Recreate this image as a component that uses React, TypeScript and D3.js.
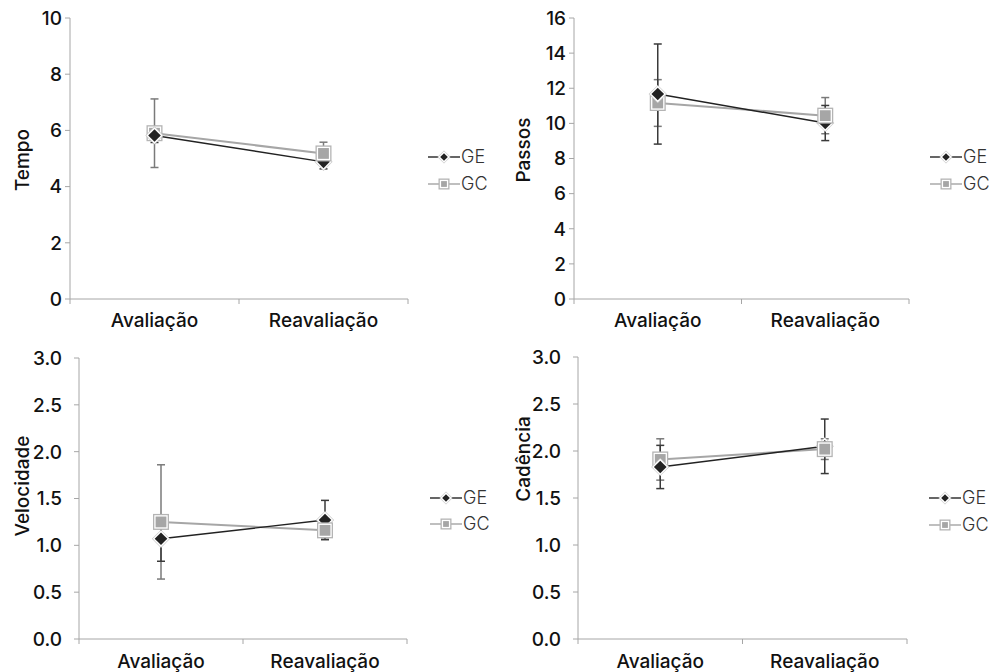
import React from "react";
import * as d3 from "d3";

const categories = ["Avaliação", "Reavaliação"];
const seriesNames = ["GE", "GC"];

const panelTitles = ["Tempo", "Passos", "Velocidade", "Cadência"];
const panelMax = [10, 16, 3, 3];
const panelStep = [2, 2, 0.5, 0.5];

// means per category
const tempoGE = [5.82, 4.88];
const tempoGC = [5.9, 5.18];
const tempoGEerr = [0.25, 0.25];
const tempoGCerr = [1.22, 0.4];

const passosGE = [11.67, 10.02];
const passosGC = [11.16, 10.44];
const passosGEerr = [2.85, 1.0];
const passosGCerr = [1.33, 1.03];

const velGE = [1.07, 1.27];
const velGC = [1.25, 1.16];
const velGEerr = [0.24, 0.21];
const velGCerr = [0.61, 0.08];

const cadGE = [1.83, 2.05];
const cadGC = [1.91, 2.02];
const cadGEerr = [0.23, 0.29];
const cadGCerr = [0.22, 0.11];

const panelData = [
  { ge: tempoGE, gc: tempoGC, geErr: tempoGEerr, gcErr: tempoGCerr },
  { ge: passosGE, gc: passosGC, geErr: passosGEerr, gcErr: passosGCerr },
  { ge: velGE, gc: velGC, geErr: velGEerr, gcErr: velGCerr },
  { ge: cadGE, gc: cadGC, geErr: cadGEerr, gcErr: cadGCerr },
];

// layout (pixels)
const layouts = [
  { x0: 70, x1: 408, yTop: 18, yBot: 299, tickLabelX: 62, titleX: 22, titleY: 160, catY: 327, legX: 428, legY: [157, 184], dec: 0 },
  { x0: 574, x1: 909, yTop: 18, yBot: 299, tickLabelX: 566, titleX: 523, titleY: 150, catY: 327, legX: 930, legY: [157, 184], dec: 0 },
  { x0: 79, x1: 407, yTop: 358, yBot: 639, tickLabelX: 62, titleX: 22, titleY: 486, catY: 668, legX: 430, legY: [498, 524], dec: 1 },
  { x0: 578, x1: 907, yTop: 357, yBot: 639, tickLabelX: 561, titleX: 523, titleY: 459, catY: 668, legX: 929, legY: [498, 525], dec: 1 },
];

const FONT = "Inter, 'Open Sans', 'DejaVu Sans', sans-serif";
const AXIS = "#a6a6a6";
const GE_COLOR = "#222222";
const GC_COLOR = "#a6a6a6";
const FS = 19;
const FW = 500;

function Diamond({ x, y, r }: { x: number; y: number; r: number }) {
  const pts = (k: number) => `${x},${y - k} ${x + k},${y} ${x},${y + k} ${x - k},${y}`;
  return (
    <g>
      <polygon points={pts(r + 1.6)} fill="#c8c8c8" />
      <polygon points={pts(r + 0.7)} fill="#ffffff" />
      <polygon points={pts(r - 1.2)} fill={GE_COLOR} />
    </g>
  );
}

function Square({ x, y, h }: { x: number; y: number; h: number }) {
  return (
    <g>
      <rect x={x - h} y={y - h} width={2 * h} height={2 * h} fill="#b4b4b4" />
      <rect x={x - h + 1.3} y={y - h + 1.3} width={2 * h - 2.6} height={2 * h - 2.6} fill="#ffffff" />
      <rect x={x - h + 2.6} y={y - h + 2.6} width={2 * h - 5.2} height={2 * h - 5.2} fill={GC_COLOR} />
    </g>
  );
}

function Panel({ idx }: { idx: number }) {
  const L = layouts[idx];
  const D = panelData[idx];
  const max = panelMax[idx];
  const step = panelStep[idx];
  const y = d3.scaleLinear().domain([0, max]).range([L.yBot, L.yTop]);
  const x = d3.scaleBand().domain(categories).range([L.x0, L.x1]);
  const cx = (c: string) => (x(c) as number) + x.bandwidth() / 2;
  const ticks = d3.range(0, max + step / 2, step);
  const fmt = d3.format(L.dec ? ".1f" : "d");
  const line = d3
    .line<number>()
    .x((_, i) => cx(categories[i]))
    .y((v) => y(v));

  const errBar = (c: string, m: number, e: number, color: string, key: string) => {
    const px = cx(c);
    return (
      <g key={key} stroke={color} strokeWidth={1.5}>
        <line x1={px} x2={px} y1={y(m - e)} y2={y(m + e)} />
        <line x1={px - 4} x2={px + 4} y1={y(m - e)} y2={y(m - e)} />
        <line x1={px - 4} x2={px + 4} y1={y(m + e)} y2={y(m + e)} />
      </g>
    );
  };

  return (
    <g>
      <line x1={L.x0} x2={L.x0} y1={L.yTop} y2={L.yBot} stroke={AXIS} strokeWidth={1} />
      <line x1={L.x0} x2={L.x1} y1={L.yBot} y2={L.yBot} stroke={AXIS} strokeWidth={1} />
      {ticks.map((t) => (
        <g key={"t" + t}>
          <line x1={L.x0 - 5} x2={L.x0} y1={y(t)} y2={y(t)} stroke={AXIS} />
          <text x={L.tickLabelX} y={y(t)} dy="0.36em" textAnchor="end" fontFamily={FONT} fontSize={FS} fontWeight={FW} fill="#111">
            {fmt(t)}
          </text>
        </g>
      ))}
      {[L.x0, ...categories.map((c) => (x(c) as number) + x.bandwidth())].map((px, i) => (
        <line key={"xt" + i} x1={px} x2={px} y1={L.yBot} y2={L.yBot + 5} stroke={AXIS} />
      ))}
      {categories.map((c) => (
        <text key={c} x={cx(c)} y={L.catY} textAnchor="middle" fontFamily={FONT} fontSize={FS} fontWeight={FW} fill="#111">
          {c}
        </text>
      ))}
      <text
        transform={`translate(${L.titleX},${L.titleY}) rotate(-90)`}
        dy="0.36em"
        textAnchor="middle"
        fontFamily={FONT}
        fontSize={FS}
        fontWeight={FW}
        fill="#111"
      >
        {panelTitles[idx]}
      </text>

      {categories.map((c, i) => errBar(c, D.gc[i], D.gcErr[i], "#7a7a7a", "gce" + i))}
      {categories.map((c, i) => errBar(c, D.ge[i], D.geErr[i], "#3a3a3a", "gee" + i))}

      <path d={line(D.gc) as string} fill="none" stroke={GC_COLOR} strokeWidth={2} />
      <path d={line(D.ge) as string} fill="none" stroke={GE_COLOR} strokeWidth={1.4} />

      <Square x={cx(categories[0])} y={y(D.gc[0])} h={8} />
      <Diamond x={cx(categories[0])} y={y(D.ge[0])} r={7.5} />
      <Diamond x={cx(categories[1])} y={y(D.ge[1])} r={7.5} />
      <Square x={cx(categories[1])} y={y(D.gc[1])} h={8} />

      {seriesNames.map((s, i) => {
        const ly = L.legY[i];
        const color = i === 0 ? "#333" : "#aaaaaa";
        return (
          <g key={s}>
            <line x1={L.legX} x2={L.legX + 32} y1={ly} y2={ly} stroke={color} strokeWidth={1.5} />
            {i === 0 ? <Diamond x={L.legX + 16} y={ly} r={5} /> : <Square x={L.legX + 16} y={ly} h={5.5} />}
            <text x={L.legX + 33} y={ly} dy="0.36em" fontFamily={FONT} fontSize={18} fontWeight={300} fill="#333">
              {s}
            </text>
          </g>
        );
      })}
    </g>
  );
}

export default function App() {
  return (
    <svg width={990} height={672} style={{ position: "absolute", left: 0, top: 0, background: "#fff" }}>
      <rect x={0} y={0} width={990} height={672} fill="#fff" />
      {[0, 1, 2, 3].map((i) => (
        <Panel key={i} idx={i} />
      ))}
    </svg>
  );
}
